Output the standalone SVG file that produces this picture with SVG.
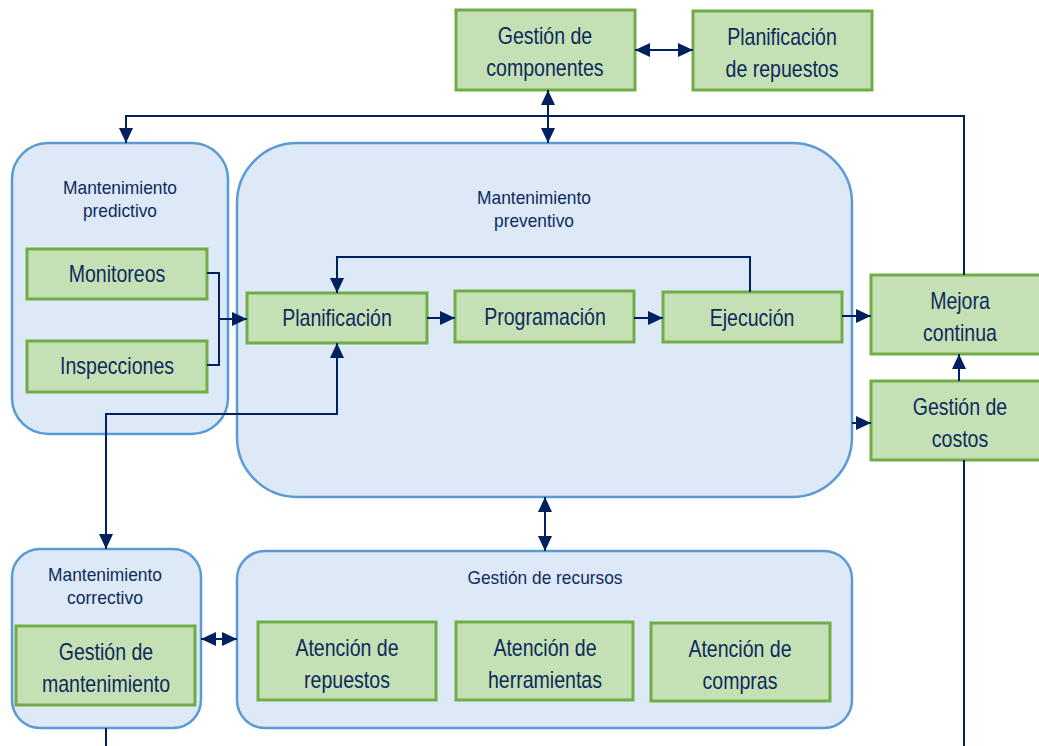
<svg xmlns="http://www.w3.org/2000/svg" width="1039" height="746" viewBox="0 0 1039 746">
<style>
.cont{fill:#dde9f6;stroke:#5b9bd5;stroke-width:2.5}
.box{fill:#c5e0b4;stroke:#70ad47;stroke-width:3}
.t{font-family:"Liberation Sans",Arial,sans-serif;fill:#0d2a5e;text-anchor:middle}
.b{font-size:23px}
.l{font-size:19px}
.c{fill:none;stroke:#002060;stroke-width:2}
</style>
<defs>
<marker id="ah" markerUnits="userSpaceOnUse" markerWidth="15" markerHeight="14" viewBox="0 0 15 14" refX="15" refY="7" orient="auto-start-reverse">
<path d="M0,0 L15,7 L0,14 Z" fill="#002060"/>
</marker>
</defs>
<rect width="1039" height="746" fill="#ffffff"/>

<g id="predictivo">
<rect class="cont" x="12" y="143" width="216" height="291" rx="36"/>
<text class="t l" x="120" y="194" textLength="114" lengthAdjust="spacingAndGlyphs">Mantenimiento</text>
<text class="t l" x="120" y="217" textLength="74" lengthAdjust="spacingAndGlyphs">predictivo</text>
</g>
<g id="preventivo">
<rect class="cont" x="237" y="143" width="615" height="354" rx="60"/>
<text class="t l" x="534" y="204" textLength="114" lengthAdjust="spacingAndGlyphs">Mantenimiento</text>
<text class="t l" x="534" y="227" textLength="80" lengthAdjust="spacingAndGlyphs">preventivo</text>
</g>
<g id="correctivo">
<rect class="cont" x="12" y="549" width="189" height="179" rx="28"/>
<text class="t l" x="105" y="581" textLength="114" lengthAdjust="spacingAndGlyphs">Mantenimiento</text>
<text class="t l" x="105" y="604" textLength="76" lengthAdjust="spacingAndGlyphs">correctivo</text>
</g>
<g id="recursos">
<rect class="cont" x="237" y="551" width="615" height="177" rx="28"/>
<text class="t l" x="545" y="584" textLength="155" lengthAdjust="spacingAndGlyphs">Gestión de recursos</text>
</g>

<g id="gestion-componentes">
<rect class="box" x="456" y="10" width="179" height="80"/>
<text class="t b" transform="translate(545,44) scale(0.85,1)">Gestión de</text>
<text class="t b" transform="translate(545,76) scale(0.85,1)">componentes</text>
</g>
<g id="planificacion-repuestos">
<rect class="box" x="693" y="11" width="179" height="79"/>
<text class="t b" transform="translate(782,45) scale(0.85,1)">Planificación</text>
<text class="t b" transform="translate(782,77) scale(0.85,1)">de repuestos</text>
</g>
<g id="monitoreos">
<rect class="box" x="27" y="249" width="180" height="50"/>
<text class="t b" transform="translate(117,282) scale(0.85,1)">Monitoreos</text>
</g>
<g id="inspecciones">
<rect class="box" x="27" y="341" width="180" height="51"/>
<text class="t b" transform="translate(117,374) scale(0.85,1)">Inspecciones</text>
</g>
<g id="planificacion">
<rect class="box" x="247" y="293" width="180" height="50"/>
<text class="t b" transform="translate(337,326) scale(0.85,1)">Planificación</text>
</g>
<g id="programacion">
<rect class="box" x="455" y="291" width="179" height="51"/>
<text class="t b" transform="translate(545,325) scale(0.85,1)">Programación</text>
</g>
<g id="ejecucion">
<rect class="box" x="663" y="292" width="179" height="50"/>
<text class="t b" transform="translate(752,326) scale(0.85,1)">Ejecución</text>
</g>
<g id="mejora-continua">
<rect class="box" x="871" y="275" width="180" height="79"/>
<text class="t b" transform="translate(960,309) scale(0.85,1)">Mejora</text>
<text class="t b" transform="translate(960,341) scale(0.85,1)">continua</text>
</g>
<g id="gestion-costos">
<rect class="box" x="871" y="381" width="180" height="79"/>
<text class="t b" transform="translate(960,415) scale(0.85,1)">Gestión de</text>
<text class="t b" transform="translate(960,447) scale(0.85,1)">costos</text>
</g>
<g id="gestion-mantenimiento">
<rect class="box" x="16" y="626" width="179" height="79"/>
<text class="t b" transform="translate(106,660) scale(0.85,1)">Gestión de</text>
<text class="t b" transform="translate(106,692) scale(0.85,1)">mantenimiento</text>
</g>
<g id="atencion-repuestos">
<rect class="box" x="258" y="622" width="178" height="78"/>
<text class="t b" transform="translate(347,656) scale(0.85,1)">Atención de</text>
<text class="t b" transform="translate(347,688) scale(0.85,1)">repuestos</text>
</g>
<g id="atencion-herramientas">
<rect class="box" x="456" y="622" width="177" height="78"/>
<text class="t b" transform="translate(545,656) scale(0.85,1)">Atención de</text>
<text class="t b" transform="translate(545,688) scale(0.85,1)">herramientas</text>
</g>
<g id="atencion-compras">
<rect class="box" x="651" y="623" width="179" height="78"/>
<text class="t b" transform="translate(740,657) scale(0.85,1)">Atención de</text>
<text class="t b" transform="translate(740,689) scale(0.85,1)">compras</text>
</g>

<g id="connectors">
<path class="c" d="M635,50 L693,50" marker-start="url(#ah)" marker-end="url(#ah)"/>
<path class="c" d="M548,90 L548,143" marker-start="url(#ah)" marker-end="url(#ah)"/>
<path class="c" d="M964,275 L964,116 L126,116 L126,143" marker-end="url(#ah)"/>
<path class="c" d="M207,273 L219,273 L219,365 L207,365"/>
<path class="c" d="M219,319 L247,319" marker-end="url(#ah)"/>
<path class="c" d="M427,318 L455,318" marker-end="url(#ah)"/>
<path class="c" d="M634,318 L663,318" marker-end="url(#ah)"/>
<path class="c" d="M750,292 L750,257 L337,257 L337,293" marker-end="url(#ah)"/>
<path class="c" d="M842,316 L871,316" marker-end="url(#ah)"/>
<path class="c" d="M852,423 L871,423" marker-end="url(#ah)"/>
<path class="c" d="M959,381 L959,354" marker-end="url(#ah)"/>
<path class="c" d="M964,460 L964,746"/>
<path class="c" d="M106,549 L106,414 L337,414 L337,343" marker-start="url(#ah)" marker-end="url(#ah)"/>
<path class="c" d="M201,639 L237,639" marker-start="url(#ah)" marker-end="url(#ah)"/>
<path class="c" d="M545,497 L545,551" marker-start="url(#ah)" marker-end="url(#ah)"/>
<path class="c" d="M106,728 L106,746"/>
</g>
</svg>
